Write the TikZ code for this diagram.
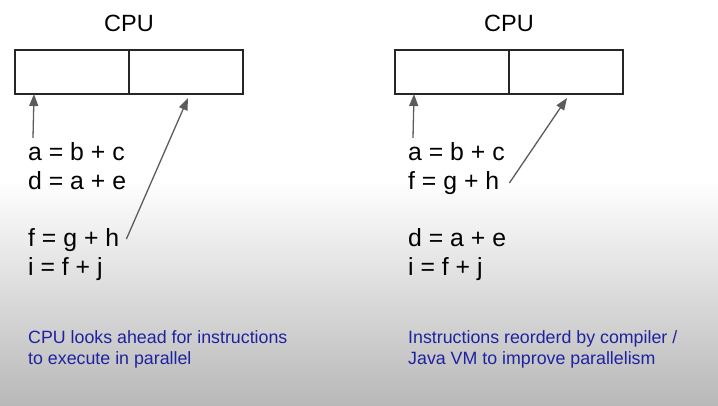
\documentclass[tikz,border=0pt]{standalone}
\usepackage{fontspec}
\setmainfont{Liberation Sans}
\usetikzlibrary{
  arrows.meta,
  positioning,  % Function "of" (e.g. [right=of x])
}
\definecolor{notecolor}{RGB}{30,34,160}
\definecolor{arrowcolor}{RGB}{92,92,92}
\definecolor{bottomgray}{RGB}{184,184,184}
\tikzset{
  x=1pt,
  y=-1pt,
  cell/.style={
    draw=black!85,
    line width=1.2pt,
    minimum width=114pt,
    minimum height=44pt,
    outer sep=0pt,
    inner sep=0pt,
    rectangle
  },
  title/.style={
    font=\fontsize{23.5}{28}\selectfont,
    inner sep=0pt
  },
  code/.style={
    font=\fontsize{24.8}{29}\selectfont,
    anchor=base west,
    inner sep=0pt
  },
  note/.style={
    font=\fontsize{17.8}{21}\selectfont,
    text=notecolor,
    align=left,
    anchor=north west,
    inner sep=0pt
  },
  ptr/.style={
    draw=arrowcolor,
    line width=1.3pt,
    -{Triangle[length=12pt,width=9pt]},
    arrowcolor
  }
}

\begin{document}
\begin{tikzpicture}
\useasboundingbox (0,0) rectangle (718,406);
% background
\fill[white] (0,0) rectangle (718,181);
\shade[top color=white,bottom color=bottomgray] (0,180) rectangle (718,406);

% left: CPU looks ahead
\node[cell] (lA) at (72,72) {};
\node[cell,right=0pt of lA] (lB) {};
\node[title,above=18pt of lA.north east] (lcpu) {CPU};
\node[code] (la1) at (28,161) {a = b + c};
\node[code] (la2) at (28,190) {d = a + e};
\node[code] (la3) at (28,247) {f = g + h};
\node[code] (la4) at (28,276) {i = f + j};
\draw[ptr] ([xshift=5pt,yshift=5pt]la1.north west) -- ([xshift=19pt]lA.south west);
\draw[ptr] ([xshift=7pt,yshift=8pt]la3.base east) -- ([xshift=59pt,yshift=-4pt]lB.south west);
\node[note] (lnote) at (28,330) {CPU looks ahead for instructions\\to execute in parallel};

% right: reordered by compiler
\node[cell] (rA) at (452,72) {};
\node[cell,right=0pt of rA] (rB) {};
\node[title,above=18pt of rA.north east] (rcpu) {CPU};
\node[code] (ra1) at (408,161) {a = b + c};
\node[code] (ra2) at (408,190) {f = g + h};
\node[code] (ra3) at (408,247) {d = a + e};
\node[code] (ra4) at (408,276) {i = f + j};
\draw[ptr] ([xshift=5pt,yshift=5pt]ra1.north west) -- ([xshift=19pt]rA.south west);
\draw[ptr] ([xshift=10pt,yshift=7pt]ra2.base east) -- ([xshift=58pt,yshift=-4pt]rB.south west);
\node[note] (rnote) at (408,330) {Instructions reorderd by compiler /\\Java VM to improve parallelism};
\end{tikzpicture}
\end{document}
